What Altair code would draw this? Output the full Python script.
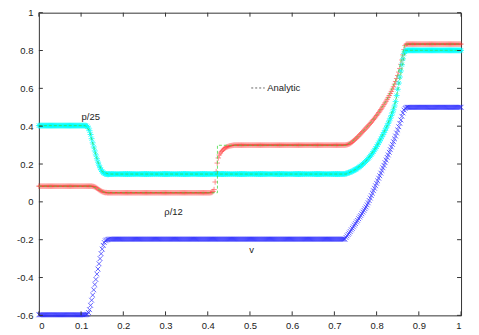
import altair as alt
import pandas as pd

# ---------------- data ----------------
dx = 0.0025
n_pts = 401
x_grid = [round(i * dx, 4) for i in range(n_pts)]

rho12 = ([0.083] * 51
         + [0.082, 0.081, 0.079, 0.076, 0.072, 0.068, 0.064, 0.06, 0.057, 0.054,
            0.052, 0.05, 0.049, 0.049]
         + [0.048] * 98
         + [0.049, 0.05, 0.055, 0.065, 0.105, 0.16, 0.205, 0.232, 0.248, 0.258,
            0.266, 0.272, 0.278, 0.283, 0.287, 0.29, 0.292, 0.294, 0.296, 0.297,
            0.298, 0.299]
         + [0.3] * 106
         + [0.301, 0.302, 0.304, 0.306, 0.309, 0.313, 0.317, 0.322, 0.327, 0.332,
            0.337, 0.343, 0.348, 0.354, 0.36, 0.366, 0.372, 0.378, 0.384, 0.39,
            0.396, 0.402, 0.408, 0.415, 0.421, 0.428, 0.435, 0.442, 0.449, 0.457,
            0.464, 0.472, 0.48, 0.488, 0.496, 0.505, 0.514, 0.523, 0.532, 0.542,
            0.552, 0.562, 0.573, 0.584, 0.596, 0.608, 0.622, 0.636, 0.652, 0.668,
            0.686, 0.705, 0.727, 0.75, 0.777, 0.805, 0.826, 0.833]
         + [0.834] * 52)

p25 = ([0.403] * 45
       + [0.402, 0.398, 0.39, 0.376, 0.356, 0.334, 0.312, 0.29, 0.269, 0.248,
          0.228, 0.21, 0.194, 0.18, 0.169, 0.16, 0.154, 0.15, 0.148, 0.147,
          0.146, 0.146]
       + [0.147] * 224
       + [0.149, 0.151, 0.153, 0.155, 0.157, 0.16, 0.162, 0.165, 0.168, 0.171,
          0.174, 0.178, 0.182, 0.186, 0.19, 0.195, 0.2, 0.205, 0.21, 0.216,
          0.222, 0.228, 0.235, 0.242, 0.249, 0.257, 0.265, 0.274, 0.283, 0.292,
          0.302, 0.312, 0.322, 0.333, 0.344, 0.355, 0.366, 0.378, 0.39, 0.402,
          0.415, 0.428, 0.442, 0.456, 0.471, 0.487, 0.507, 0.53, 0.562, 0.595,
          0.628, 0.66, 0.692, 0.725, 0.756, 0.785, 0.797, 0.8]
       + [0.801] * 52)

vel = ([-0.597] * 45
       + [-0.596, -0.594, -0.585, -0.57, -0.547, -0.52, -0.493, -0.465, -0.437, -0.41,
          -0.382, -0.355, -0.327, -0.3, -0.274, -0.25, -0.23, -0.215, -0.206, -0.202,
          -0.2, -0.198]
       + [-0.197] * 224
       + [-0.188, -0.18, -0.172, -0.165, -0.157, -0.148, -0.14, -0.132, -0.123, -0.115,
          -0.106, -0.098, -0.089, -0.08, -0.072, -0.063, -0.054, -0.045, -0.036, -0.027,
          -0.016, -0.005, 0.007, 0.02, 0.033, 0.046, 0.059, 0.072, 0.085, 0.098,
          0.111, 0.125, 0.138, 0.152, 0.166, 0.18, 0.193, 0.207, 0.221, 0.235,
          0.248, 0.262, 0.276, 0.29, 0.304, 0.318, 0.333, 0.348, 0.364, 0.38,
          0.397, 0.415, 0.433, 0.452, 0.47, 0.485, 0.494, 0.498]
       + [0.5] * 52)

assert len(rho12) == n_pts and len(p25) == n_pts and len(vel) == n_pts

# analytic solution (green dashed)
ana_rho_x = [0.0, 0.125, 0.14, 0.155, 0.165, 0.423, 0.423, 0.728, 0.75, 0.775, 0.8,
             0.825, 0.85, 0.867, 1.0]
ana_rho_y = [0.083, 0.083, 0.068, 0.05, 0.048, 0.048, 0.299, 0.299, 0.332, 0.39, 0.457,
             0.542, 0.668, 0.834, 0.834]
ana_p_x = [0.0, 0.11, 0.12, 0.13, 0.14, 0.15, 0.165, 0.728, 0.75, 0.775, 0.8, 0.825,
           0.845, 0.868, 1.0]
ana_p_y = [0.403, 0.403, 0.376, 0.29, 0.21, 0.16, 0.147, 0.147, 0.171, 0.216, 0.292,
           0.402, 0.53, 0.801, 0.801]

x_ticks = [0, 0.1, 0.2, 0.3, 0.4, 0.5, 0.6, 0.7, 0.8, 0.9, 1]
y_ticks = [-0.6, -0.4, -0.2, 0, 0.2, 0.4, 0.6, 0.8, 1]

labels_text = ["p/25", "ρ/12", "v"]
labels_x = [0.123, 0.319, 0.504]
labels_y = [0.451, -0.053, -0.254]

legend_label = "Analytic"
legend_x = [0.503, 0.535]
legend_y = 0.602

# ---------------- chart ----------------
W, H = 424, 304
FONT = "Liberation Sans"
TXT = "#222222"

xscale = alt.Scale(domain=[0, 1], nice=False, zero=False)
yscale = alt.Scale(domain=[-0.6, 1], nice=False, zero=False)
xaxis = alt.Axis(values=x_ticks, title=None, labelExpr="toString(datum.value)",
                 ticks=False, domain=False, grid=False, labelPadding=5)
yaxis = alt.Axis(values=y_ticks, title=None, labelExpr="toString(datum.value)",
                 ticks=False, domain=False, grid=False, labelPadding=6)


def X(field="x"):
    return alt.X(f"{field}:Q", scale=xscale, axis=xaxis)


def Y(field="y"):
    return alt.Y(f"{field}:Q", scale=yscale, axis=yaxis)


df_rho = pd.DataFrame({"x": x_grid, "y": rho12})
df_p = pd.DataFrame({"x": x_grid, "y": p25})
df_v = pd.DataFrame({"x": x_grid, "y": vel})

df_ana = pd.concat([
    pd.DataFrame({"x": ana_rho_x, "y": ana_rho_y, "s": "rho", "i": range(len(ana_rho_x))}),
    pd.DataFrame({"x": ana_p_x, "y": ana_p_y, "s": "p", "i": range(len(ana_p_x))}),
])

df_xt = pd.DataFrame({"x": x_ticks})
df_yt = pd.DataFrame({"y": y_ticks})

TK = 4
tick_style = dict(color="#333333", strokeWidth=1)
ticks_bottom = alt.Chart(df_xt).mark_rule(**tick_style).encode(x=X(), y=alt.value(H), y2=alt.value(H - TK))
ticks_top = alt.Chart(df_xt).mark_rule(**tick_style).encode(x=X(), y=alt.value(0), y2=alt.value(TK))
ticks_left = alt.Chart(df_yt).mark_rule(**tick_style).encode(y=Y(), x=alt.value(0), x2=alt.value(TK))
ticks_right = alt.Chart(df_yt).mark_rule(**tick_style).encode(y=Y(), x=alt.value(W), x2=alt.value(W - TK))

PLUS = "M-1,0L1,0M0,-1L0,1"
CROSS = "M-0.8,-0.8L0.8,0.8M-0.8,0.8L0.8,-0.8"
STAR = "M-1,0L1,0M0,-1L0,1M-0.7,-0.7L0.7,0.7M-0.7,0.7L0.7,-0.7"

red = alt.Chart(df_rho).mark_point(shape=PLUS, filled=False, size=30, strokeWidth=0.9,
                                   color="#ff3030", opacity=0.6).encode(x=X(), y=Y())
cyan = alt.Chart(df_p).mark_point(shape=STAR, filled=False, size=36, strokeWidth=0.9,
                                  color="#00ffff", opacity=0.85).encode(x=X(), y=Y())
blue = alt.Chart(df_v).mark_point(shape=CROSS, filled=False, size=36, strokeWidth=0.9,
                                  color="#2a2aff", opacity=0.8).encode(x=X(), y=Y())

ana = alt.Chart(df_ana).mark_line(color="#44dd44", strokeWidth=0.8, strokeDash=[3, 2]).encode(
    x=X(), y=Y(), detail="s:N", order="i:Q")

df_lab = pd.DataFrame({"x": labels_x, "y": labels_y, "t": labels_text})
labels = alt.Chart(df_lab).mark_text(font=FONT, fontSize=9.5, color=TXT, align="center",
                                     baseline="middle").encode(x=X(), y=Y(), text="t:N")

df_leg = pd.DataFrame({"x": [legend_x[0]], "x2": [legend_x[1]], "y": [legend_y]})
leg_line = alt.Chart(df_leg).mark_rule(color="#666666", strokeWidth=1, strokeDash=[2, 2]).encode(
    x=X(), x2="x2:Q", y=Y())
df_legt = pd.DataFrame({"x": [legend_x[1] + 0.006], "y": [legend_y], "t": [legend_label]})
leg_text = alt.Chart(df_legt).mark_text(font=FONT, fontSize=9.5, color=TXT, align="left",
                                        baseline="middle").encode(x=X(), y=Y(), text="t:N")

chart = alt.layer(
    red, cyan, blue, ana, ticks_bottom, ticks_top, ticks_left, ticks_right, labels, leg_line, leg_text
).properties(
    width=W, height=H,
    padding={"left": 31, "top": 4, "right": 10, "bottom": 14},
    autosize=alt.AutoSizeParams(type="none"),
    background="white",
).configure_view(
    stroke="#333333", strokeWidth=1
).configure_axis(
    labelFont=FONT, labelFontSize=9.5, labelColor=TXT
)

chart.save("out.html", embed_options={"renderer": "svg", "actions": False})
